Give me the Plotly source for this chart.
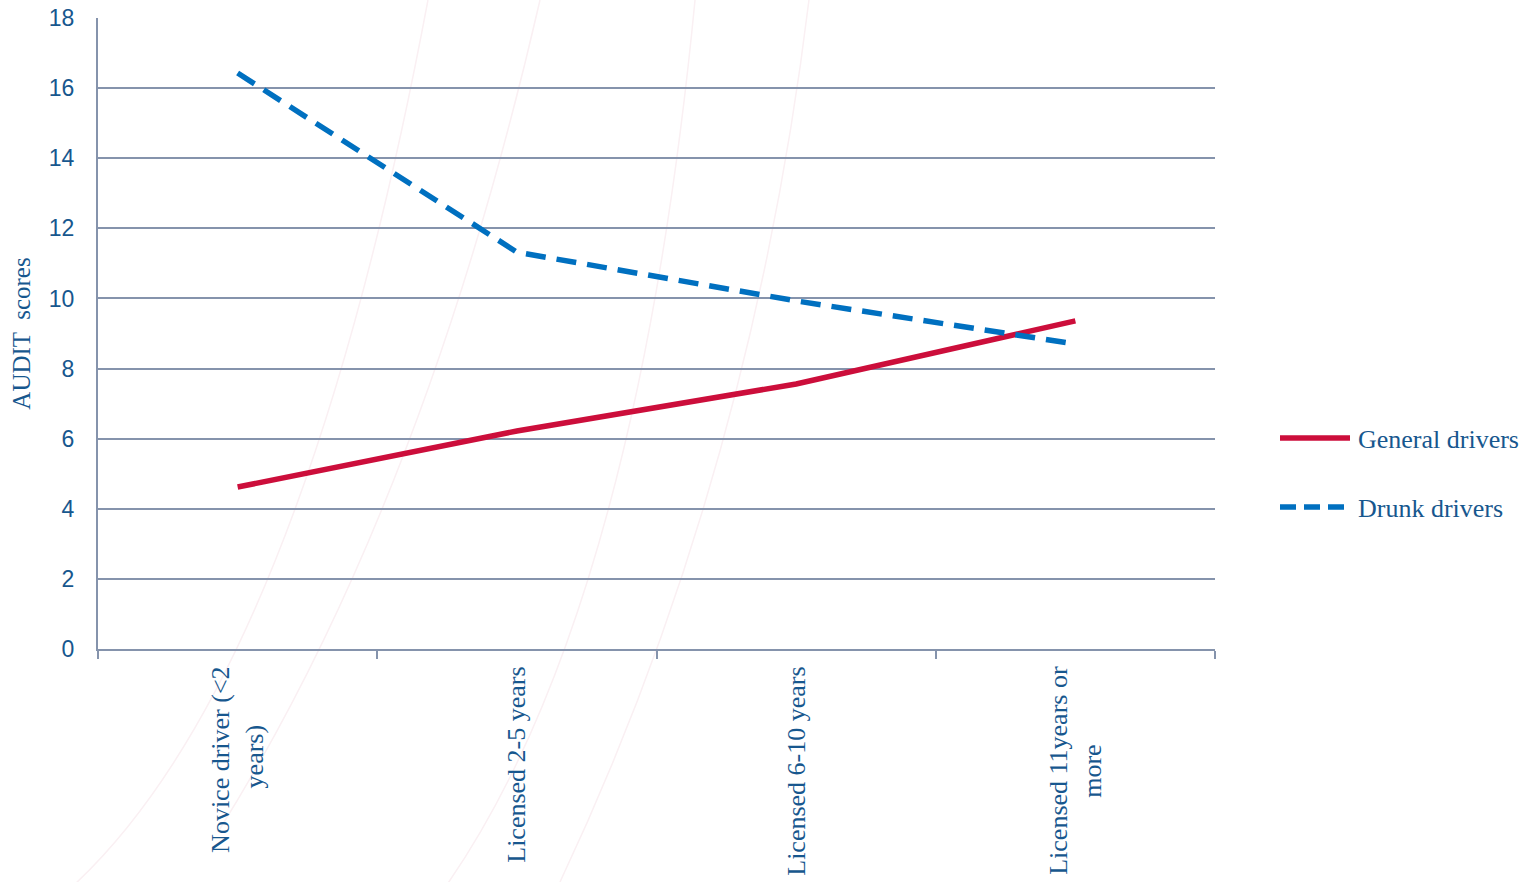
import plotly.graph_objects as go

NB = "\u00a0"
categories = ["Novice driver (<2<br>years)" + NB * 9,
              "Licensed 2-5 years",
              "Licensed 6-10 years",
              "Licensed 11years or<br>more" + NB * 12]
general_drivers = [4.62, 6.22, 7.56, 9.36]
drunk_drivers = [16.43, 11.32, 9.93, 8.70]
y_ticks = [0, 2, 4, 6, 8, 10, 12, 14, 16, 18]
series_names = ["General drivers", "Drunk drivers"]

grid_col = "#8593AC"
text_col = "#17578E"
red = "#CC0E3B"
blue = "#0070C0"
dash_pat = "20px,11px"

fig = go.Figure()
fig.add_trace(go.Scatter(x=categories, y=general_drivers, mode="lines", name=series_names[0],
                         line=dict(color=red, width=5.5), showlegend=False))
fig.add_trace(go.Scatter(x=categories, y=drunk_drivers, mode="lines", name=series_names[1],
                         line=dict(color=blue, width=5.5, dash=dash_pat), showlegend=False))

# plot area in pixels: x 98..1215, y 18..649
def px(xp):
    return (xp - 98) / 1117.0

def py(yp):
    return (649 - yp) / 631.0

shapes = []
# very faint decorative background arcs
arcs = [((428, 0), (297, 698), (57, 900)),
        ((540, 0), (425, 502), (218, 832)),
        ((695, 0), (634, 630), (436, 900)),
        ((809, 0), (751, 477), (560, 882))]
for s, c, e in arcs:
    path = "M {:.4f},{:.4f} Q {:.4f},{:.4f} {:.4f},{:.4f}".format(px(s[0]), py(s[1]), px(c[0]), py(c[1]), px(e[0]), py(e[1]))
    shapes.append(dict(type="path", path=path, xref="paper", yref="paper",
                       line=dict(color="#FAF0F3", width=1.5), layer="below"))

# legend (manual, to match long sample lines)
leg_y = [438, 507]
leg_col = [red, blue]
leg_dash = ["solid", "16px,8px"]
annotations = []
for name, yy, col, dsh in zip(series_names, leg_y, leg_col, leg_dash):
    shapes.append(dict(type="line", xref="paper", yref="paper", x0=px(1280), x1=px(1350),
                       y0=py(yy), y1=py(yy), line=dict(color=col, width=5.5, dash=dsh)))
    annotations.append(dict(text=name, xref="paper", yref="paper", x=px(1356), y=py(yy + 1),
                            xanchor="left", yanchor="middle", showarrow=False,
                            font=dict(family="Liberation Serif", size=26, color=text_col)))

fig.update_layout(
    width=1536, height=882,
    margin=dict(l=98, r=321, t=18, b=233),
    paper_bgcolor="white", plot_bgcolor="white",
    showlegend=False,
    shapes=shapes, annotations=annotations,
    xaxis=dict(type="category", range=[-0.5, 3.5], showgrid=False, automargin=False,
               showline=True, linecolor=grid_col, linewidth=2,
               ticks="outside", ticklen=8, tickcolor=grid_col, tickwidth=2,
               tickson="boundaries", tickangle=-90, ticklabelstandoff=5,
               tickfont=dict(family="Liberation Serif", size=26, color=text_col)),
    yaxis=dict(range=[0, 18], tickvals=y_ticks, showgrid=True, gridcolor=grid_col, gridwidth=2,
               showline=True, linecolor=grid_col, linewidth=2, zeroline=False, automargin=False,
               tickfont=dict(family="Liberation Sans", size=23, color=text_col),
               ticklabelstandoff=17,
               title=dict(text="AUDIT  scores", standoff=11,
                          font=dict(family="Liberation Serif", size=25, color=text_col))),
)
fig.write_html("out.html")
